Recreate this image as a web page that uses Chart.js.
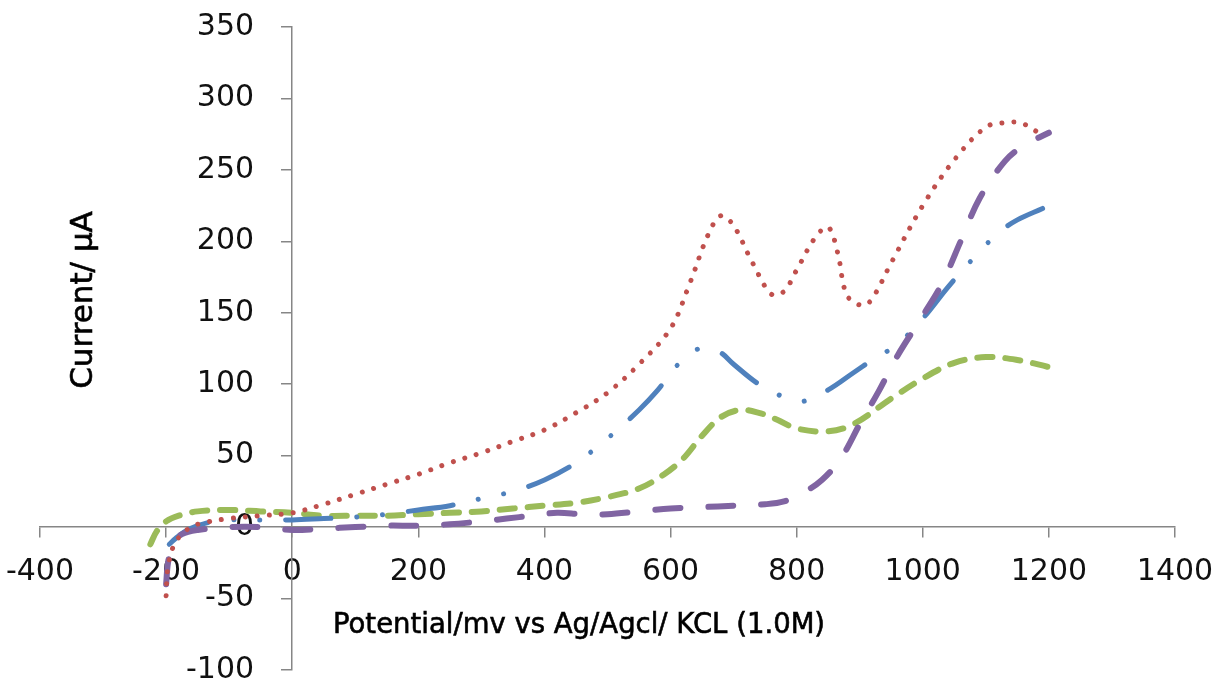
<!DOCTYPE html>
<html>
<head>
<meta charset="utf-8">
<script src="https://cdn.jsdelivr.net/npm/chart.js@4/dist/chart.umd.min.js"></script>
<style>
  html, body { margin: 0; padding: 0; background: #fff; }
  #wrap { width: 1224px; height: 684px; position: relative; }
</style>
</head>
<body>
<div id="wrap"><canvas id="cv"></canvas></div>
<script>
// axis ranges and tick steps
const xTicks = [-400, -200, 0, 200, 400, 600, 800, 1000, 1200, 1400];
const yTicks = [-100, -50, 0, 50, 100, 150, 200, 250, 300, 350];

// red dotted series
const redX = [-200, -197, -187, -170, -150, -100, -50, 0, 50, 100, 150, 200, 250, 300, 350, 400, 450, 500, 550, 600, 630, 660, 680, 700, 730, 760, 780, 800, 830, 850, 865, 880, 905, 920, 950, 1000, 1050, 1100, 1130, 1155, 1180];
const redY = [-48, -28, -12, -3, 2, 6, 8, 10, 16, 23, 30, 37, 45, 52, 60, 68, 80, 94, 114, 139, 170, 205, 218, 211, 185, 163, 165, 180, 203, 210, 192, 162, 155, 160, 185, 225, 257, 280, 283, 283, 277];

// blue long-dash-dot-dot series
const blueX = [-195, -185, -170, -150, -125, -100, -50, 0, 50, 100, 150, 200, 250, 300, 350, 400, 450, 500, 550, 580, 610, 640, 660, 680, 700, 740, 780, 810, 850, 890, 920, 960, 1000, 1040, 1080, 1120, 1150, 1190];
const blueY = [-12, -8, -3, 1, 4, 5, 5, 5, 6, 7, 9, 12, 15, 20, 25, 33, 45, 62, 82, 96, 113, 124, 125, 122, 114, 100, 91, 88, 96, 108, 117, 128, 146, 168, 188, 206, 215, 223];

// green dashed series
const greenX = [-225, -215, -200, -180, -150, -100, -50, 0, 50, 100, 150, 200, 250, 300, 350, 400, 450, 500, 550, 590, 620, 650, 680, 710, 740, 770, 800, 850, 890, 950, 1000, 1050, 1100, 1150, 1200];
const greenY = [-12, -3, 4, 8, 11, 12, 11, 10, 8, 8, 8, 9, 10, 11, 13, 15, 17, 21, 27, 37, 48, 64, 77, 82, 80, 75, 69, 67, 72, 90, 104, 115, 119, 117, 112];

// purple long-dash series
const purpleX = [-200, -197, -190, -175, -150, -100, -50, 0, 50, 100, 150, 200, 250, 300, 340, 380, 420, 460, 500, 550, 600, 650, 700, 750, 780, 810, 840, 870, 900, 930, 960, 1000, 1030, 1060, 1090, 1130, 1160, 1200];
const purpleY = [-40, -25, -12, -5, -2, 0, 0, -2, -1, 0, 1, 1, 2, 4, 6, 8, 10, 9, 9, 11, 13, 14, 15, 16, 18, 24, 33, 48, 72, 95, 120, 148, 170, 200, 230, 256, 267, 276];

const pts = (xs, ys) => xs.map((x, i) => ({ x: x, y: ys[i] }));

const FONT = "'DejaVu Sans', Verdana, sans-serif";
const AXIS = "#868686";

// axis titles sit outside the value-positioned axes, so draw them by hand
const titles = {
  id: "titles",
  afterDraw(chart) {
    const ctx = chart.ctx;
    ctx.save();
    ctx.fillStyle = "#000";
    ctx.strokeStyle = "#000";
    ctx.lineWidth = 0.6;
    ctx.textAlign = "center";
    ctx.textBaseline = "middle";
    ctx.font = "27.5px " + FONT;
    ctx.fillText("Potential/mv vs Ag/Agcl/ KCL (1.0M)", 579, 626);
    ctx.strokeText("Potential/mv vs Ag/Agcl/ KCL (1.0M)", 579, 626);
    ctx.translate(84, 300);
    ctx.rotate(-Math.PI / 2);
    ctx.font = "31px " + FONT;
    ctx.fillText("Current/ µA", 0, 0);
    ctx.strokeText("Current/ µA", 0, 0);
    ctx.restore();
  },
};

const line = (label, data, color, dash, width) => ({
  label: label,
  data: data,
  showLine: true,
  borderColor: color,
  backgroundColor: color,
  borderWidth: width,
  borderDash: dash,
  borderCapStyle: "round",
  pointRadius: 0,
  tension: 0.35,
  fill: false,
});

new Chart(document.getElementById("cv"), {
  type: "scatter",
  data: {
    datasets: [
      line("red", pts(redX, redY), "#C0504D", [0.01, 12], 5),
      line("purple", pts(purpleX, purpleY), "#8064A2", [25, 28], 6),
      line("blue", pts(blueX, blueY), "#4F81BD", [45, 26, 0.01, 26, 0.01, 26], 5),
      line("green", pts(greenX, greenY), "#9BBB59", [15, 13], 6),
    ],
  },
  options: {
    responsive: true,
    maintainAspectRatio: false,
    animation: false,
    layout: { padding: { left: 40, right: 49, top: 27, bottom: 14 } },
    plugins: {
      legend: { display: false },
      tooltip: { enabled: false },
    },
    scales: {
      x: {
        type: "linear",
        position: { y: 0 },
        min: xTicks[0],
        max: xTicks[xTicks.length - 1],
        afterBuildTicks: (scale) => { scale.ticks = xTicks.map((v) => ({ value: v })); },
        grid: { drawOnChartArea: false, drawTicks: true, tickLength: 10, color: AXIS, lineWidth: 1.5 },
        border: { color: AXIS, width: 1.5 },
        ticks: {
          color: "#111",
          // a tall line box pushes the labels down without widening the side padding
          font: { family: FONT, size: 30, lineHeight: 2.2 },
          padding: 2,
          maxRotation: 0,
          autoSkip: false,
          callback: (v) => String(v),
        },
      },
      y: {
        type: "linear",
        position: { x: 0 },
        min: yTicks[0],
        max: yTicks[yTicks.length - 1],
        afterBuildTicks: (scale) => { scale.ticks = yTicks.map((v) => ({ value: v })); },
        grid: { drawOnChartArea: false, drawTicks: true, tickLength: 10, color: AXIS, lineWidth: 1.5 },
        border: { color: AXIS, width: 1.5 },
        ticks: {
          color: "#111",
          font: { family: FONT, size: 30, lineHeight: 0.6 },
          autoSkip: false,
          // labels of a value-positioned axis are right-aligned on the axis line; pad them off it
          callback: (v) => String(v) + "    ",
        },
      },
    },
  },
  plugins: [titles],
});
</script>
</body>
</html>
